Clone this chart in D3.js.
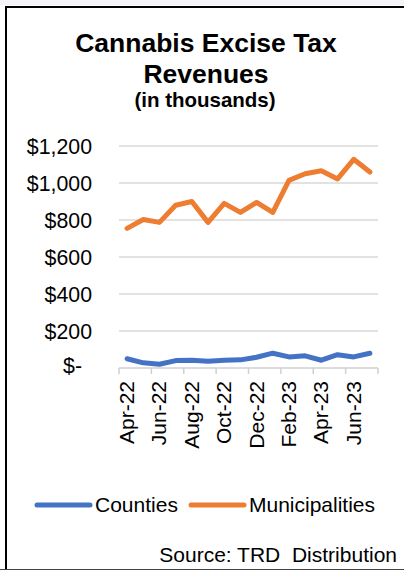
<!DOCTYPE html>
<html>
<head>
<meta charset="utf-8">
<script src="https://cdn.jsdelivr.net/npm/d3@7"></script>
<style>
  body { margin: 0; background: #fff; }
  svg { display: block; font-family: "Liberation Sans", Arial, sans-serif; }
</style>
</head>
<body>
<div id="chart"></div>
<script>
// monthly revenues, thousands of dollars
let months = ["Apr-22", "May-22", "Jun-22", "Jul-22", "Aug-22", "Sep-22", "Oct-22", "Nov-22",
	"Dec-22", "Jan-23", "Feb-23", "Mar-23", "Apr-23", "May-23", "Jun-23", "Jul-23"];
let counties = [50, 28, 20, 40, 42, 36, 42, 44, 58, 80, 60, 66, 42, 72, 60, 80];
let municipalities = [755, 803, 787, 880, 900, 787, 890, 841, 895, 841, 1014, 1050, 1066, 1022, 1128, 1059];
let yTicks = [0, 200, 400, 600, 800, 1000, 1200];

let series = [
	{ name: "Counties", values: counties, color: "#4472C4" },
	{ name: "Municipalities", values: municipalities, color: "#ED7D31" }
];

let W = 404, H = 571;
let margin = { top: 146, right: 26, bottom: 203, left: 119 };

let svg = d3.select("#chart").append("svg").attr("width", W).attr("height", H);

// frame
svg.append("rect").attr("x", 0).attr("y", 0).attr("width", W).attr("height", 5).attr("fill", "#f3f5f9");
svg.append("line").attr("x1", 5).attr("x2", W).attr("y1", 7).attr("y2", 7)
	.attr("stroke", "#000").attr("stroke-width", 2);
svg.append("line").attr("x1", 6).attr("x2", 6).attr("y1", 6).attr("y2", 570)
	.attr("stroke", "#000").attr("stroke-width", 2);
svg.append("line").attr("x1", 0).attr("x2", W).attr("y1", 569.5).attr("y2", 569.5)
	.attr("stroke", "#444").attr("stroke-width", 1);

// titles
svg.append("text").attr("x", 206).attr("y", 52).attr("text-anchor", "middle")
	.style("font-size", "26.5px").style("font-weight", "bold").text("Cannabis Excise Tax");
svg.append("text").attr("x", 206).attr("y", 83).attr("text-anchor", "middle")
	.style("font-size", "26.5px").style("font-weight", "bold").text("Revenues");
svg.append("text").attr("x", 205).attr("y", 107).attr("text-anchor", "middle")
	.style("font-size", "20.5px").style("font-weight", "bold").text("(in thousands)");

let x = d3.scaleBand().domain(months).range([margin.left, W - margin.right]);
let y = d3.scaleLinear().domain([0, 1200]).range([H - margin.bottom, margin.top]);

// gridlines
svg.append("g").selectAll("line").data(yTicks.slice(1)).enter().append("line")
	.attr("x1", margin.left).attr("x2", W - margin.right)
	.attr("y1", d => y(d)).attr("y2", d => y(d))
	.attr("stroke", "#d9d9d9").attr("stroke-width", 1.5);

// y labels
let yAxis = svg.append("g").attr("transform", "translate(" + (margin.left - 27) + ",0)")
	.call(d3.axisLeft(y).tickValues(yTicks).tickSize(0).tickPadding(0)
		.tickFormat(d => d === 0 ? "$-" : "$" + d3.format(",")(d)));
yAxis.select(".domain").remove();
yAxis.selectAll("text").style("font-size", "21.3px").attr("fill", "#000").attr("dy", "0.35em");
yAxis.selectAll("text").filter(d => d === 0).attr("dx", -10).attr("dy", "0.2em");

// x axis: line with ticks between every other category
let xAxis = svg.append("g");
xAxis.append("line").attr("x1", margin.left).attr("x2", W - margin.right)
	.attr("y1", y(0)).attr("y2", y(0)).attr("stroke", "#d0d0d0").attr("stroke-width", 1.5);
let tickMonths = months.filter((d, i) => i % 2 === 0);
xAxis.selectAll(".tk").data(tickMonths.concat(["end"])).enter().append("line")
	.attr("x1", d => d === "end" ? W - margin.right : x(d))
	.attr("x2", d => d === "end" ? W - margin.right : x(d))
	.attr("y1", y(0)).attr("y2", y(0) + 6)
	.attr("stroke", "#d0d0d0").attr("stroke-width", 1.5);
xAxis.selectAll("text").data(tickMonths).enter().append("text")
	.attr("transform", d => "translate(" + (x(d) + x.bandwidth() / 2 + 7) + "," + (y(0) + 13) + ") rotate(-90)")
	.attr("text-anchor", "end")
	.style("font-size", "21px").text(d => d);

// lines
let line = d3.line().x((d, i) => x(months[i]) + x.bandwidth() / 2).y(d => y(d));
svg.append("g").selectAll("path").data(series).enter().append("path")
	.attr("d", d => line(d.values))
	.attr("fill", "none").attr("stroke", d => d.color).attr("stroke-width", 5)
	.attr("stroke-linejoin", "round").attr("stroke-linecap", "round");

// legend
let legendX = [37, 191];
let legend = svg.append("g").selectAll("g").data(series).enter().append("g")
	.attr("transform", (d, i) => "translate(" + legendX[i] + ",505)");
legend.append("line").attr("x1", 0).attr("x2", 53).attr("y1", 0).attr("y2", 0)
	.attr("stroke", d => d.color).attr("stroke-width", 5).attr("stroke-linecap", "round");
legend.append("text").attr("x", 58).attr("y", 7).style("font-size", "21px").text(d => d.name);

// source
svg.append("text").attr("x", 397).attr("y", 562).attr("text-anchor", "end")
	.style("font-size", "21px").style("white-space", "pre").text("Source: TRD  Distribution");
</script>
</body>
</html>
